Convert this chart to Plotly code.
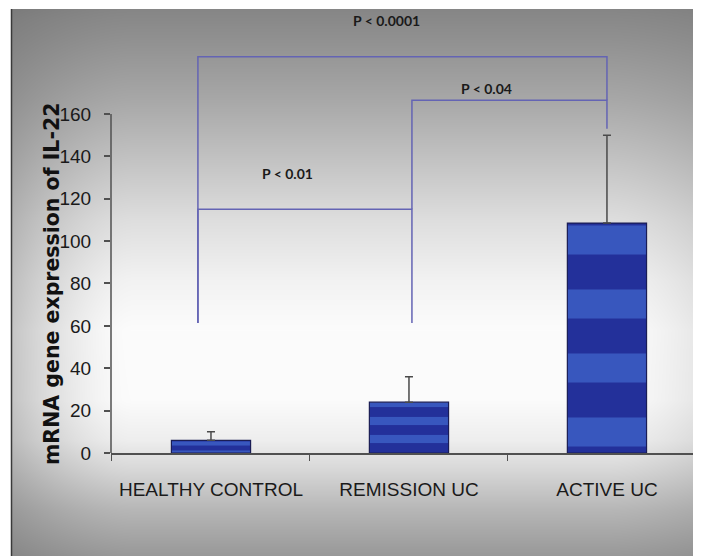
import zlib, struct, base64
import numpy as np
import plotly.graph_objects as go

# ---------------- data ----------------
categories = ["HEALTHY CONTROL", "REMISSION UC", "ACTIVE UC"]
mean_values = [6.0, 24.0, 108.5]
error_plus = [4.0, 12.0, 41.5]
ytick_values = [0, 20, 40, 60, 80, 100, 120, 140, 160]

# significance brackets
bracket_levels = [115.0, 166.5, 187.0]
bracket_labels = ["P < 0.01", "P < 0.04", "P < 0.0001"]
bracket_left_x = [-0.066, 1.015, -0.066]
bracket_right_x = [1.015, 2.0, 2.0]
bracket_left_bottom = [61.3, 115.0, 61.3]
bracket_right_bottom = [61.3, 153.0, 166.5]
label_x = [0.384, 1.394, 0.884]
label_y = [132.0, 172.0, 204.0]

# ---------------- geometry ----------------
# the page body has an 8px margin, so the figure is drawn 8px in from the top-left
OFF = 8
W, H = 701 - OFF, 556 - OFF
ML, MR, MT, MB = 103, 0, 8, 103
PW = W - ML - MR
PH = H - MT - MB
Y_TOP = PH / 2.119

# ---------------- background gradient (PNG) ----------------
def make_bg(w, h, x0, y0):
    ys = np.arange(h) + y0
    xs = np.arange(w) + x0
    pts_y = [9, 40, 100, 160, 220, 280, 330, 400, 440, 470, 510, 556]
    pts_v = [134, 145, 168, 195, 222, 242, 252, 251, 238, 215, 182, 152]
    base = np.interp(ys, pts_y, pts_v)[:, None]
    left = np.clip(1 - (xs - 11) / 120.0, 0, 1) ** 1.6
    right = np.clip(1 - (701 - xs) / 90.0, 0, 1) ** 1.5
    fac = np.clip((base - 110) / 140.0, 0.2, 1)
    g = base - 55 * left[None, :] * fac - 22 * right[None, :] * fac
    g = np.clip(g, 0, 255).astype(np.uint8)
    rgb = np.repeat(g[:, :, None], 3, axis=2)
    raw = b"".join(b"\x00" + rgb[r].tobytes() for r in range(h))

    def chunk(t, d):
        c = struct.pack(">I", len(d)) + t + d
        return c + struct.pack(">I", zlib.crc32(t + d) & 0xFFFFFFFF)

    png = (b"\x89PNG\r\n\x1a\n"
           + chunk(b"IHDR", struct.pack(">IIBBBBB", w, h, 8, 2, 0, 0, 0))
           + chunk(b"IDAT", zlib.compress(raw, 9))
           + chunk(b"IEND", b""))
    return "data:image/png;base64," + base64.b64encode(png).decode()

# reference-pixel coordinates of the photo area
BG_X0, BG_Y0 = 11, 9
bg_uri = make_bg(701 - BG_X0, 556 - BG_Y0, BG_X0, BG_Y0)

def px_to_paper_x(px_ref):
    return (px_ref - OFF - ML) / PW

def px_to_paper_y(py_ref):
    return (H - MB - (py_ref - OFF)) / PH

narrow = "Liberation Sans Narrow, Arial Narrow, Liberation Sans, Arial, sans-serif"

fig = go.Figure()

fig.add_trace(go.Bar(
    x=categories,
    y=mean_values,
    width=0.40,
    marker=dict(
        color="#24349c",
        line=dict(color="#1a1d55", width=1.2),
        pattern=dict(shape="-", bgcolor="#23309a", fgcolor="#3857be",
                     size=[9, 18, 64], solidity=0.45, fgopacity=1),
    ),
    error_y=dict(type="data", symmetric=False, array=error_plus,
                 arrayminus=[0] * len(error_plus),
                 color="#4a4a4a", thickness=1.5, width=4),
    showlegend=False,
))

# brackets
for i in range(len(bracket_levels)):
    fig.add_trace(go.Scatter(
        x=[bracket_left_x[i], bracket_left_x[i], bracket_right_x[i], bracket_right_x[i]],
        y=[bracket_left_bottom[i], bracket_levels[i], bracket_levels[i], bracket_right_bottom[i]],
        mode="lines", line=dict(color="#6464b4", width=1.5),
        hoverinfo="skip", showlegend=False, xaxis="x2",
    ))
    fig.add_annotation(x=label_x[i], y=label_y[i], xref="x2", yref="y",
                       text=bracket_labels[i], showarrow=False,
                       font=dict(family="Lato, Open Sans, sans-serif", size=14,
                                 color="#1a1a1a", weight="bold"))

# y-axis line up to 160 only
fig.add_shape(type="line", xref="paper", yref="y", x0=0, x1=0, y0=0, y1=160,
              line=dict(color="#505050", width=1.5))

# left dark border of the photo
fig.add_shape(type="line", xref="paper", yref="paper",
              x0=px_to_paper_x(11.5), x1=px_to_paper_x(11.5),
              y0=px_to_paper_y(9), y1=px_to_paper_y(556),
              line=dict(color="#3a3a3a", width=1.5))

fig.add_layout_image(dict(
    source=bg_uri, xref="paper", yref="paper",
    x=px_to_paper_x(BG_X0), y=px_to_paper_y(BG_Y0),
    sizex=(701 - BG_X0) / PW, sizey=(556 - BG_Y0) / PH,
    xanchor="left", yanchor="top", sizing="stretch", layer="below",
))

# y-axis title
fig.add_annotation(x=px_to_paper_x(38), y=px_to_paper_y(284), xref="paper", yref="paper",
                   text="mRNA gene expression of IL-22", textangle=-90, showarrow=False,
                   font=dict(family="DejaVu Sans, sans-serif", size=20.5, color="#111111",
                             weight="bold"))

fig.update_layout(
    width=W, height=H,
    margin=dict(l=ML, r=MR, t=MT, b=MB, pad=0, autoexpand=False),
    paper_bgcolor="white",
    plot_bgcolor="rgba(0,0,0,0)",
    xaxis=dict(
        type="category", range=[-0.505, 2.475], automargin=False, tickangle=0,
        showline=True, linecolor="#505050", linewidth=1.5,
        ticks="outside", tickson="boundaries", ticklen=6, tickcolor="#505050",
        showgrid=False, zeroline=False,
        tickfont=dict(family=narrow, size=19, color="#1a1a1a"),
        ticklabelstandoff=18,
    ),
    xaxis2=dict(range=[-0.505, 2.475], overlaying="x", visible=False),
    yaxis=dict(
        range=[0, Y_TOP], tickvals=ytick_values, showline=False, automargin=False,
        ticks="outside", ticklen=6, tickcolor="#505050", tickwidth=1.5,
        showgrid=False, zeroline=False,
        tickfont=dict(family=narrow, size=19, color="#1a1a1a"),
        ticklabelstandoff=9,
    ),
)

fig.write_html("out.html")
